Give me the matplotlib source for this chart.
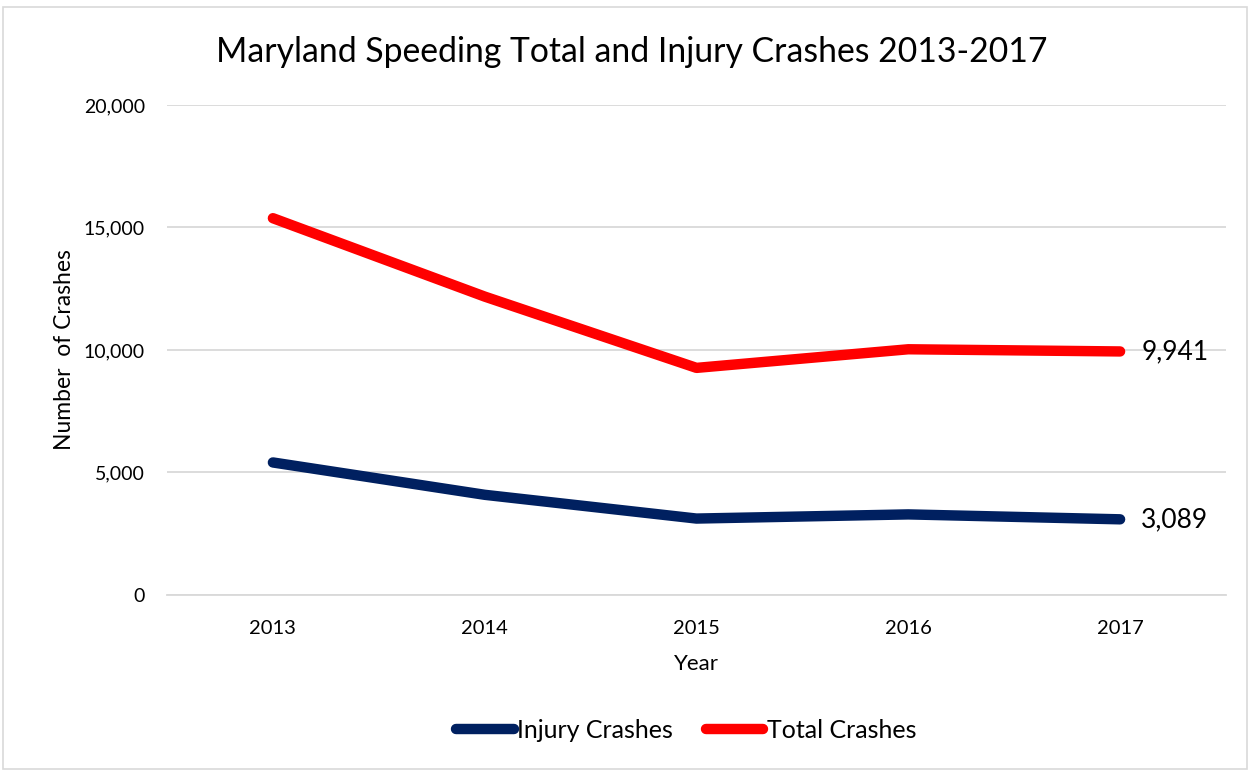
import matplotlib
matplotlib.use("Agg")
import matplotlib.pyplot as plt
from matplotlib.lines import Line2D
from matplotlib.patches import Rectangle

years = ["2013", "2014", "2015", "2016", "2017"]
injury = [5410, 4090, 3120, 3290, 3089]
total = [15380, 12180, 9270, 10030, 9941]
yticks = [0, 5000, 10000, 15000, 20000]

navy = "#002060"
red = "#FF0000"
plt.rcParams['font.family'] = ['Lato', 'DejaVu Sans']

fig = plt.figure(figsize=(12.5, 7.74), dpi=100)
ax = fig.add_axes([167/1250, 1-595/774, (1226-167)/1250, (595-105)/774])

x = list(range(len(years)))
ax.plot(x, injury, color=navy, lw=7.5, solid_capstyle='round', solid_joinstyle='round', zorder=3)
ax.plot(x, total, color=red, lw=7.5, solid_capstyle='round', solid_joinstyle='round', zorder=3)

ax.text(x[-1] + 0.10, injury[-1], f"{injury[-1]:,}", va='center', ha='left', fontsize=19, color='#000000')
ax.text(x[-1] + 0.10, total[-1], f"{total[-1]:,}", va='center', ha='left', fontsize=19, color='#000000')

ax.set_xlim(-0.5, len(years) - 0.5)
ax.set_ylim(0, 20000)
ax.set_yticks(yticks)
ax.set_yticklabels([f"{v:,}" for v in yticks], fontsize=14)
ax.set_xticks(x)
ax.set_xticklabels(years, fontsize=14.5)
ax.tick_params(axis='both', length=0, colors='#000000')
ax.tick_params(axis='y', pad=16)
ax.tick_params(axis='x', pad=18)
ax.grid(axis='y', color='#D9D9D9', lw=1.3)
ax.set_axisbelow(True)
for s in ['top', 'right', 'left']:
    ax.spines[s].set_visible(False)
ax.spines['bottom'].set_color('#D9D9D9')
ax.spines['bottom'].set_linewidth(1.3)

ax.set_xlabel("Year", fontsize=16, labelpad=12)
ax.set_ylabel("Number  of Crashes", fontsize=16.5, labelpad=6)

fig.text(0.505, 1-52/774, "Maryland Speeding Total and Injury Crashes 2013-2017", ha='center', va='center', fontsize=24.3)

handles = [Line2D([0], [0], color=navy, lw=7.5, solid_capstyle='round'),
           Line2D([0], [0], color=red, lw=7.5, solid_capstyle='round')]
fig.legend(handles, ["Injury Crashes", "Total Crashes"], loc='center', bbox_to_anchor=(0.549, 1-730/774),
           ncol=2, frameon=False, fontsize=18, handlelength=2.3, handletextpad=0.15, columnspacing=1.3)

fig.patches.append(Rectangle((3/1250, 5/774), 1244/1250, 762/774, transform=fig.transFigure,
                             fill=False, edgecolor='#D9D9D9', lw=1.2))

fig.savefig("out.png", dpi=100, facecolor='white')
